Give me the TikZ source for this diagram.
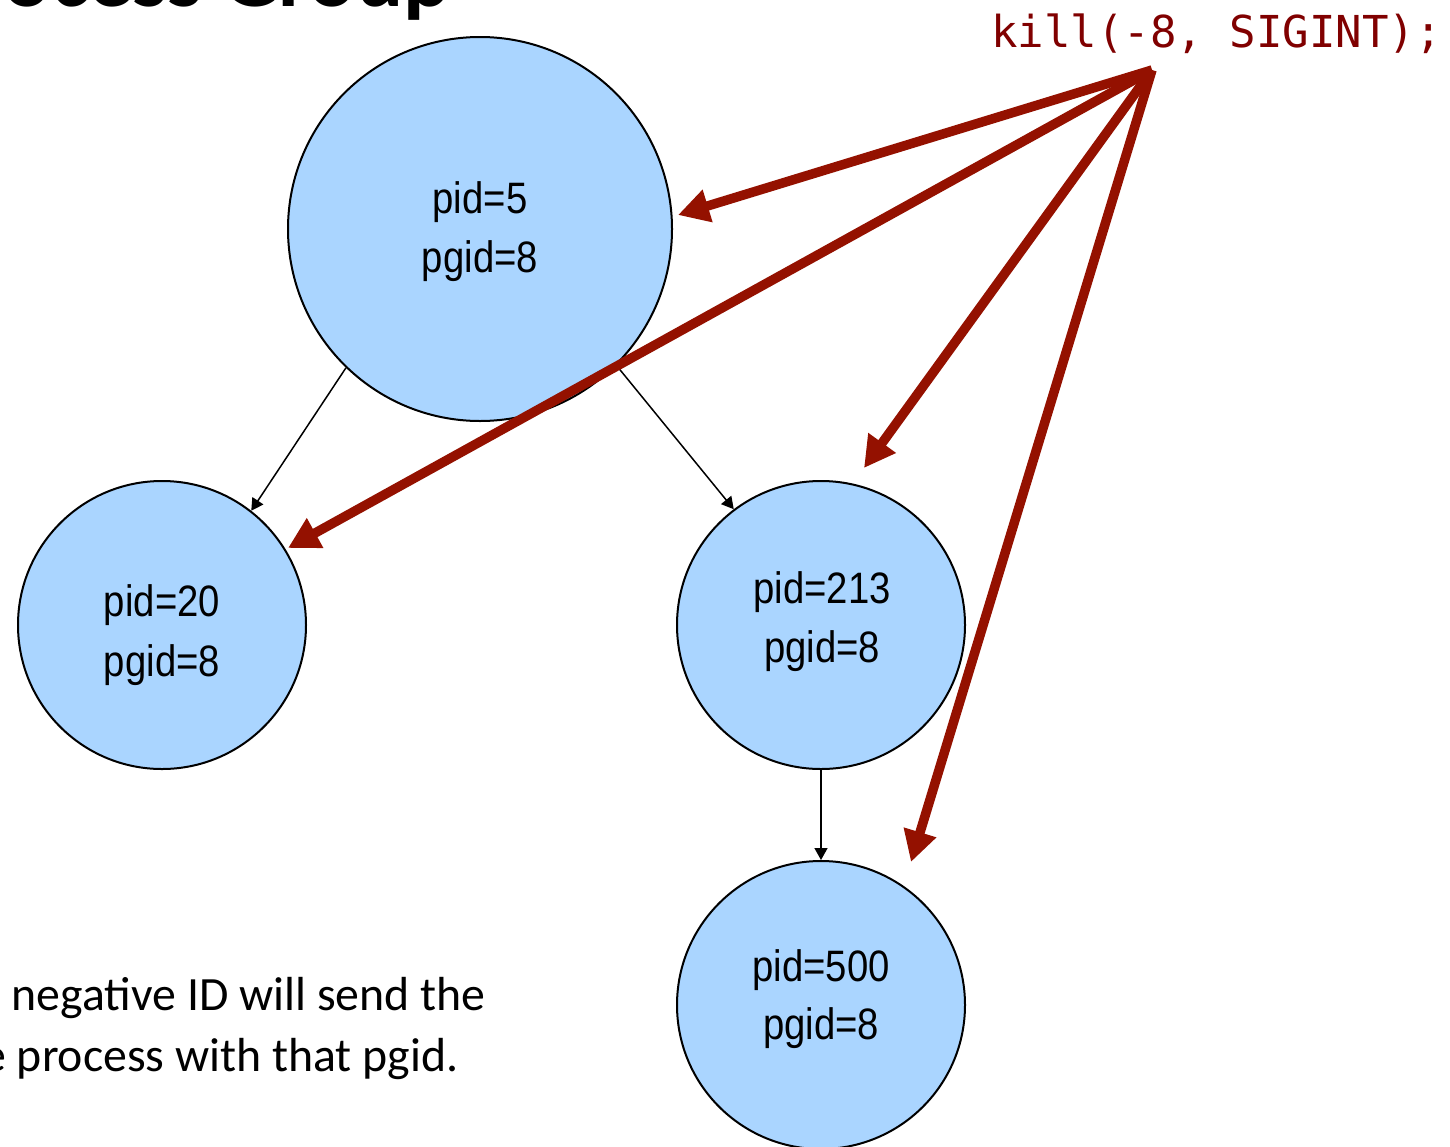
\documentclass[tikz,border=0pt]{standalone}
\usepackage{fontspec}
\setmainfont{Carlito}
\newfontfamily\narrowfont[FakeStretch=0.87]{Liberation Sans}
\newfontfamily\codefont{DejaVu Sans Mono}
\usetikzlibrary{arrows.meta,calc}
\definecolor{cfill}{RGB}{170,213,255}
\definecolor{sigred}{RGB}{148,17,0}
\definecolor{codered}{RGB}{128,0,0}
\begin{document}
\begin{tikzpicture}[x=0.5pt,y=-0.5pt,
  proc/.style={circle,draw=black,line width=1pt,fill=cfill,inner sep=0pt},
  bigproc/.style={proc,minimum size=192pt},
  smallproc/.style={proc,minimum size=144pt},
  lbl/.style={font=\narrowfont\fontsize{22pt}{26pt}\selectfont,inner sep=0pt,anchor=center},
  tree/.style={draw=black,line width=0.75pt,-{Triangle[length=6pt,width=6.5pt]}},
  sig/.style={draw=sigred,line width=4.75pt,-{Triangle[length=15.5pt,width=16pt]}},
  bodytext/.style={font=\fontsize{23.9pt}{28pt}\selectfont,anchor=base east,inner sep=0pt}
]
\useasboundingbox (0,0) rectangle (1450,1146);
\begin{scope}
\clip (0,0) rectangle (1450,1146);
\node[font=\bfseries\fontsize{44pt}{50pt}\selectfont,anchor=base east,inner sep=0pt] (title) at (451,6) {Process Group};

\node[bigproc] (p5) at (480,229) {};
\node[smallproc] (p20) at (162,625) {};
\node[smallproc] (p213) at (821,625) {};
\node[smallproc] (p500) at (821,1005) {};

\node[lbl] (l5a) at (480,202) {pid=5};
\node[lbl] (l5b) at (480,261) {pgid=8};
\node[lbl] (l20a) at (162,605) {pid=20};
\node[lbl] (l20b) at (162,665) {pgid=8};
\node[lbl] (l213a) at (822,592) {pid=213};
\node[lbl] (l213b) at (822,651) {pgid=8};
\node[lbl] (l500a) at (821,970) {pid=500};
\node[lbl] (l500b) at (821,1028) {pgid=8};

\draw[tree] (p5.226) -- (p20.52);
\draw[tree] (p5.315) -- (p213.127);
\draw[tree] (p213.south) -- (p500.north);

\node[font=\codefont\fontsize{22pt}{26pt}\selectfont,text=codered,anchor=base west,inner sep=0pt] (kill) at (991,47) {kill(-8, SIGINT);};

\node[bodytext] (b1) at (486,1010) {negative ID will send the};
\node[bodytext] (b2) at (459,1071) {e process with that pgid.};

\coordinate (src) at (1152,70);
\coordinate (t5) at ($(p5.center)+(198,-14)$);
\coordinate (t20) at ($(p20.center)+(126,-77)$);
\coordinate (t213) at ($(p213.center)+(43,-157)$);
\coordinate (t500) at ($(p500.center)+(90,-143)$);

\draw[sig] (src) -- (t5);
\draw[sig] (src) -- (t20);
\draw[sig] (src) -- (t213);
\draw[sig] (src) -- (t500);
\end{scope}
\end{tikzpicture}
\end{document}
